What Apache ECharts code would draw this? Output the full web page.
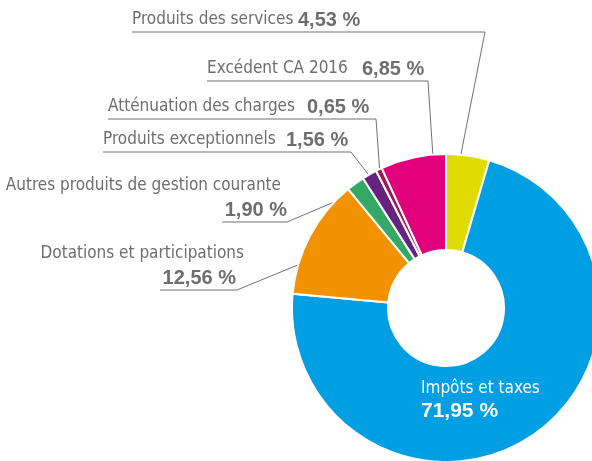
<!DOCTYPE html>
<html>
<head>
<meta charset="utf-8">
<style>
  html, body { margin: 0; padding: 0; background: #fff; }
  #chart { width: 592px; height: 461px; }
</style>
<script src="https://cdn.jsdelivr.net/npm/echarts@6/dist/echarts.min.js"></script>
</head>
<body>
<div id="chart"></div>
<script>
// données (sens horaire depuis midi)
const categories = ['Produits des services', 'Impôts et taxes', 'Dotations et participations',
  'Autres produits de gestion courante', 'Produits exceptionnels', 'Atténuation des charges', 'Excédent CA 2016'];
const values = [4.53, 71.95, 12.56, 1.90, 1.56, 0.65, 6.85];
const valueLabels = ['4,53 %', '71,95 %', '12,56 %', '1,90 %', '1,56 %', '0,65 %', '6,85 %'];
const colors = ['#dedc00', '#009fe3', '#f39200', '#35a866', '#64237f', '#a3175a', '#e2007a'];

// mise en page des étiquettes (position, coude du trait, point d'accroche dans la part)
const center = [446, 308];
const radius = [58, 154];
const labelPos = [
  { x: 132, y: 32, align: 'left', nameW: 166, ex: 485, sx: 132, frac: 0.33, r: 150 },
  { x: 421, y: 378, align: 'left' },
  { x: 244, y: 290, align: 'right', padV: 8, ex: 237, sx: 160, frac: 0.5, r: 125 },
  { x: 287, y: 222, align: 'right', padN: 6, ex: 287, sx: 222, frac: 0.5, r: 145 },
  { x: 103, y: 152, align: 'left', nameW: 183, ex: 351, sx: 103, frac: 0.5, r: 147 },
  { x: 108, y: 119, align: 'left', nameW: 199, ex: 376, sx: 108, frac: 0.5, r: 152 },
  { x: 207, y: 81, align: 'left', nameW: 155, ex: 428, sx: 207, frac: 0.8, r: 150 }
];

const total = values.reduce((a, b) => a + b, 0);

// point d'accroche du trait à l'intérieur de la part
function anchorPoint(i) {
  let before = 0;
  for (let k = 0; k < i; k++) before += values[k];
  const pos = (before + values[i] * labelPos[i].frac) / total;
  const ang = pos * Math.PI * 2;
  const r = labelPos[i].r;
  return [center[0] + r * Math.sin(ang), center[1] - r * Math.cos(ang)];
}

const font = "'DejaVu Sans Condensed', 'Liberation Sans Narrow', sans-serif";
const boldFont = "'Liberation Sans', Arial, sans-serif";
const grey = '#6e6e6e';

const seriesData = categories.map((name, i) => {
  const L = labelPos[i];
  const inside = i === 1;
  const twoLines = i === 1 || i === 2 || i === 3;
  const color = inside ? '#fff' : grey;
  const lh = inside ? 22 : 24;
  const n = { fontFamily: font, fontSize: 17, color: color, lineHeight: lh };
  const v = { fontFamily: boldFont, fontSize: inside ? 21 : 20, fontWeight: 'bold', color: color, lineHeight: lh };
  if (L.nameW) n.width = L.nameW;
  if (L.padN) n.padding = [0, L.padN, 0, 0];
  if (L.padV) v.padding = [0, L.padV, 0, 0];
  const item = {
    name: name,
    value: values[i],
    itemStyle: { color: colors[i] },
    label: {
      formatter: '{n|' + name + '}' + (twoLines ? '\n' : '') + '{v|' + valueLabels[i] + '}',
      rich: { n: n, v: v }
    }
  };
  if (inside) item.labelLine = { show: false };
  return item;
});

const chart = echarts.init(document.getElementById('chart'));
chart.setOption({
  animation: false,
  series: [{
    type: 'pie',
    center: center,
    radius: radius,
    startAngle: 90,
    clockwise: true,
    avoidLabelOverlap: false,
    itemStyle: { borderColor: '#fff', borderWidth: 2 },
    label: { show: true, position: 'outer' },
    labelLine: {
      show: true,
      lineStyle: { color: '#707070', width: 1 }
    },
    labelLayout: function (p) {
      const i = p.dataIndex;
      const L = labelPos[i];
      if (i === 1) {
        return { x: L.x, y: L.y, align: 'left', verticalAlign: 'top' };
      }
      return {
        x: L.x,
        y: L.y,
        align: L.align,
        verticalAlign: 'bottom',
        labelLinePoints: [anchorPoint(i), [L.ex, L.y], [L.sx, L.y]]
      };
    },
    data: seriesData
  }]
});
</script>
</body>
</html>
